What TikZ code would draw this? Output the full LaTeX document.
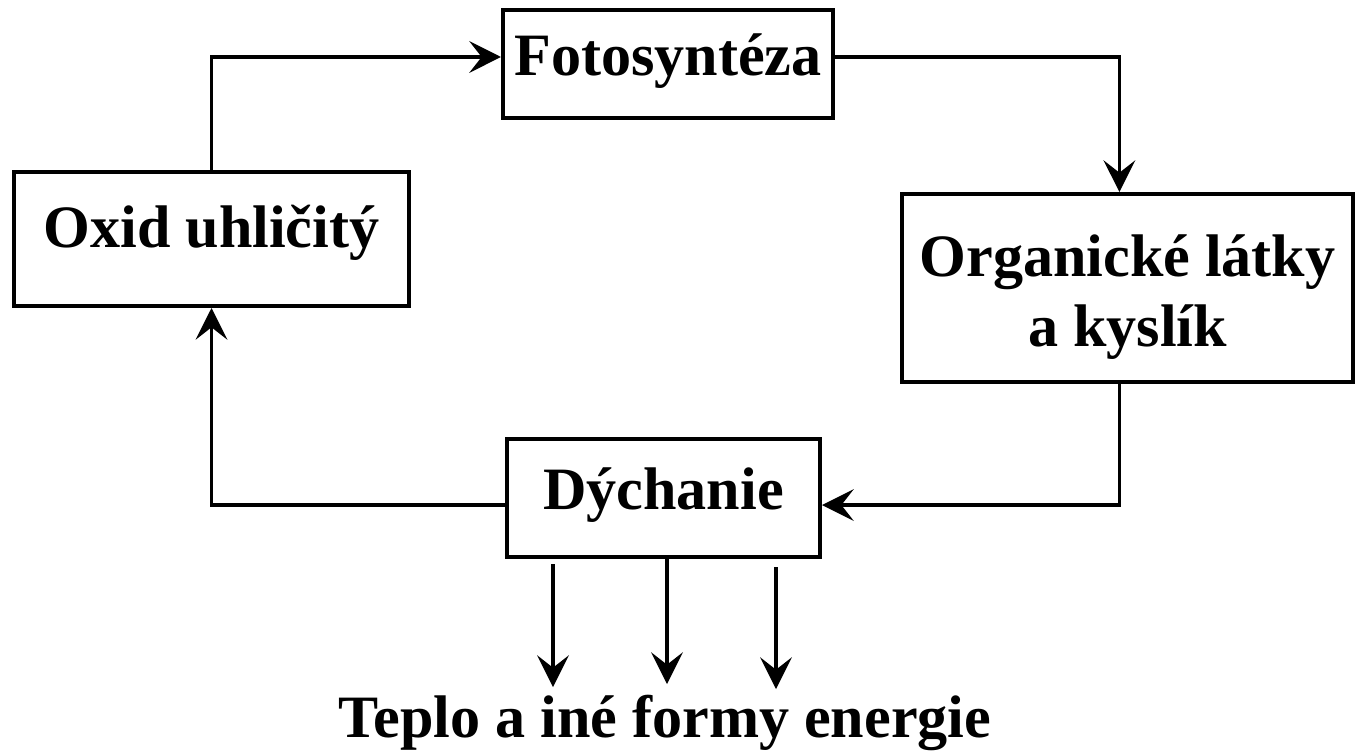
\documentclass[tikz,border=0pt]{standalone}
\usepackage{fontspec}
\setmainfont{Liberation Serif}
\usetikzlibrary{positioning,arrows.meta,calc}

\begin{document}
\begin{tikzpicture}[
  x=0.01cm,y=-0.01cm,
  font=\fontsize{17.1}{19.9}\selectfont\bfseries,
  frame/.style={draw,line width=1.1pt,align=center,inner sep=0pt},
  box/.style={frame,text height=0.68em,text depth=0.22em},
  fl/.style={-{Stealth[length=9pt,width=9pt,inset=3.5pt]},line width=1pt},
]
\useasboundingbox (0,0) rectangle (1357,750);
\node[box,text depth=0.02em,minimum width=3.30cm,minimum height=1.08cm] (foto) at (668,64) {Fotosyntéza};
\node[box,minimum width=3.95cm,minimum height=1.34cm] (oxid) at (211.5,239) {Oxid uhličitý};
\node[frame,minimum width=4.51cm,minimum height=1.88cm] (org) at (1127.5,288)
  {\rule{0pt}{1.0em}Organické látky\\a kyslík};
\node[box,text depth=0em,minimum width=3.13cm,minimum height=1.18cm] (dych) at (663.5,498) {Dýchanie};
\node[anchor=base] (teplo) at (665,737) {Teplo a iné formy energie};
% cycle
\draw[fl] (oxid.north) |- ([yshift=2pt]foto.west);
\draw[fl] ([yshift=2pt]foto.east) -| ([xshift=-2.3pt]org.north);
\draw[fl] ([xshift=-2.3pt]org.south) |- ([yshift=-2pt]dych.east);
\draw[fl] ([yshift=-2pt]dych.west) -| (oxid.south);
% energy
\coordinate (e1) at (553,687);
\coordinate (e2) at (667,684);
\coordinate (e3) at (776,689);
\draw[fl,shorten <=1.5pt] (dych.south -| e1) -- (e1);
\draw[fl] (dych.south -| e2) -- (e2);
\draw[fl,shorten <=2.3pt] (dych.south -| e3) -- (e3);
\end{tikzpicture}
\end{document}
